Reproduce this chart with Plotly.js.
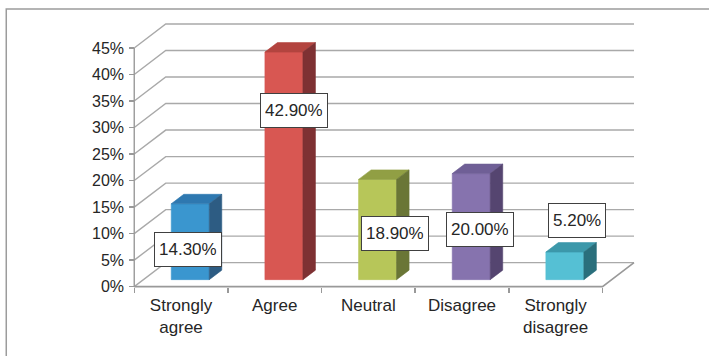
<!DOCTYPE html>
<html>
<head>
<meta charset="utf-8">
<script src="https://cdn.plot.ly/plotly-3.0.1.min.js"></script>
<style>
  html, body { margin: 0; padding: 0; background: #fff; }
  #chart { width: 709px; height: 356px; }
</style>
</head>
<body>
<div id="chart"></div>
<script>
// Survey responses (share of respondents, %)
const categories = ['Strongly agree', 'Agree', 'Neutral', 'Disagree', 'Strongly disagree'];
const tickLabels = ['Strongly<br>agree', 'Agree', 'Neutral', 'Disagree', 'Strongly<br>disagree'];
const shares = [14.3, 42.9, 18.9, 20.0, 5.2];
const yTicks = [0, 5, 10, 15, 20, 25, 30, 35, 40, 45];

// Bar face colours: front, top, side
const frontColors = ['#3a96cf', '#d85752', '#b7c659', '#8673ae', '#55c0d4'];
const topColors   = ['#2e78b0', '#b3443f', '#919f44', '#6f5f96', '#3c98aa'];
const sideColors  = ['#2d5c83', '#7e3133', '#6a7636', '#554570', '#2a6f7c'];

// Label anchor positions (category offset, value axis)
const labelDX = [0.077, 0.203, 0.282, 0.19, 0.231];
const labelY  = [6.97, 33.2, 9.98, 10.83, 12.52];

// ---- pseudo-3D geometry, in pixels of the 709x356 canvas ----
const W = 709, H = 356;
const CW = 93.65;          // px per category
const PPY = 5.311;         // px per percentage point
const X0PX = 180.8;        // pixel x of category 0 on the front plane
const Y0PX = 287;          // pixel y of 0% on the front plane
const DEPTH_X = 31.5, DEPTH_Y = 24;   // wall depth offset
const BAR_W = 38;                      // front face width
const BAR_SHIFT_X = 9.2, BAR_SHIFT_Y = 7;  // bar set back from the front plane
const BAR_DX = 12.5, BAR_DY = 9.5;     // bar depth

const du = px => px / CW;
const dv = px => px / PPY;

const n = categories.length;
const yMax = yTicks[yTicks.length - 1];
const xLo = -0.5, xHi = n - 0.5;
const xr = [xLo - 0.12, xHi + du(DEPTH_X + 3)];
const yr = [-1.2, yMax + dv(DEPTH_Y + 3)];

const mL = X0PX + xr[0] * CW;
const plotW = (xr[1] - xr[0]) * CW;
const mR = W - mL - plotW;
const mT = Y0PX - yr[1] * PPY;
const plotH = (yr[1] - yr[0]) * PPY;
const mB = H - mT - plotH;

const traces = [];
const gridGray = '#a9a9a9';
const edgeGray = '#999999';

// walls: left-wall diagonals and back-wall horizontals at every tick
const gx = [], gy = [];
yTicks.forEach(v => {
  gx.push(xLo, xLo + du(DEPTH_X), xHi + du(DEPTH_X), null);
  gy.push(v, v + dv(DEPTH_Y), v + dv(DEPTH_Y), null);
});
traces.push({ x: gx, y: gy, mode: 'lines', line: { color: gridGray, width: 1.4 }, hoverinfo: 'skip' });

// value axis line and floor edges
traces.push({ x: [xLo, xLo], y: [0, yMax], mode: 'lines', line: { color: edgeGray, width: 1.4 }, hoverinfo: 'skip' });
traces.push({ x: [xLo, xHi, xHi + du(DEPTH_X)], y: [0, 0, dv(DEPTH_Y)], mode: 'lines',
              line: { color: edgeGray, width: 1.6 }, hoverinfo: 'skip' });

// bars: front, top and side faces
function face(xs, ys, color) {
  traces.push({ x: xs.concat([xs[0]]), y: ys.concat([ys[0]]), mode: 'lines', fill: 'toself',
                fillcolor: color, line: { color: color, width: 0.6 }, hoverinfo: 'skip' });
}
shares.forEach((v, i) => {
  const xl = i + du(BAR_SHIFT_X - BAR_W / 2);
  const xrr = i + du(BAR_SHIFT_X + BAR_W / 2);
  const b = dv(BAR_SHIFT_Y);
  const t = b + v;
  const sx = du(BAR_DX), sy = dv(BAR_DY);
  face([xl, xrr, xrr, xl], [b, b, t, t], frontColors[i]);
  face([xl, xrr, xrr + sx, xl + sx], [t, t, t + sy, t + sy], topColors[i]);
  face([xrr, xrr + sx, xrr + sx, xrr], [b, b + sy, t + sy, t], sideColors[i]);
});

const font = { family: 'Liberation Sans, Arial, sans-serif', color: '#262626' };

const annotations = shares.map((v, i) => ({
  x: i + labelDX[i], y: labelY[i], xref: 'x', yref: 'y',
  text: v.toFixed(2) + '%', showarrow: false,
  font: Object.assign({}, font, { size: 17 }),
  bgcolor: '#ffffff', bordercolor: '#404040', borderwidth: 1, borderpad: 4, height: 25
}));

// outer frame of the chart area
const pxToPaperX = px => (px - mL) / plotW;
const pxToPaperY = py => (H - mB - py) / plotH;
const shapes = [{
  type: 'rect', xref: 'paper', yref: 'paper',
  x0: pxToPaperX(6), x1: pxToPaperX(W + 10), y0: pxToPaperY(H + 10), y1: pxToPaperY(9),
  line: { color: '#9c9c9c', width: 1.5 }, fillcolor: 'rgba(0,0,0,0)', layer: 'below'
}];

const boundaries = [];
for (let i = 0; i <= n; i++) boundaries.push(i - 0.5);

const layout = {
  width: W, height: H,
  margin: { l: mL, r: mR, t: mT, b: mB, pad: 0 },
  paper_bgcolor: '#ffffff', plot_bgcolor: '#ffffff',
  showlegend: false,
  font: font,
  xaxis: {
    range: xr, showgrid: false, zeroline: false, showline: false,
    anchor: 'free', position: (0 - yr[0]) / (yr[1] - yr[0]),
    tickmode: 'array', tickvals: categories.map((c, i) => i), ticktext: tickLabels,
    ticks: '', tickfont: Object.assign({}, font, { size: 17 }), ticklabelstandoff: 6,
    minor: { tickmode: 'array', tickvals: boundaries, ticks: 'outside', ticklen: 5,
             tickcolor: edgeGray, tickwidth: 1.4, showgrid: false }
  },
  yaxis: {
    range: yr, showgrid: false, zeroline: false, showline: false,
    anchor: 'free', position: (xLo - xr[0]) / (xr[1] - xr[0]),
    tickmode: 'array', tickvals: yTicks, ticktext: yTicks.map(v => v + '%'),
    ticks: 'outside', ticklen: 5, tickcolor: edgeGray, tickwidth: 1.4,
    tickfont: Object.assign({}, font, { size: 16 }), ticklabelstandoff: 2
  },
  annotations: annotations,
  shapes: shapes
};

Plotly.newPlot('chart', traces, layout, { staticPlot: true, displayModeBar: false });
</script>
</body>
</html>
